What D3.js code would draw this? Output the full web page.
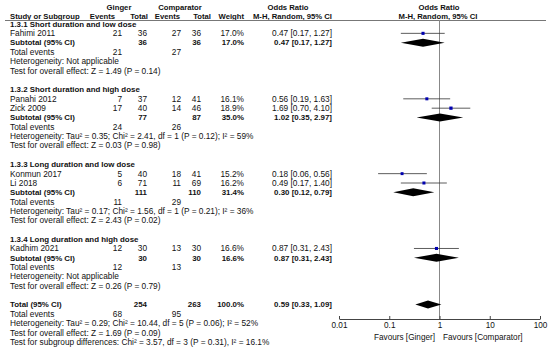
<!DOCTYPE html>
<html>
<head>
<meta charset="utf-8">
<script src="https://cdn.jsdelivr.net/npm/d3@7"></script>
<style>
  body { margin: 0; background: #fff; }
  svg text { font-family: "Liberation Sans", Arial, sans-serif; font-size: 8.3px; fill: #111; }
  .b { font-weight: bold; font-size: 7.9px; }
  .h { font-weight: bold; font-size: 7.7px; }
</style>
</head>
<body>
<svg id="chart" width="550" height="350"></svg>
<script>
// study level data
const groups = ["1.3.1 Short duration and low dose", "1.3.2 Short duration and high dose",
  "1.3.3 Long duration and low dose", "1.3.4 Long duration and high dose"];
const studies = ["Fahimi 2011", "Panahi 2012", "Zick 2009", "Konmun 2017", "Li 2018", "Kadhim 2021"];
const studyGroup = [0, 1, 1, 2, 2, 3];
const gEvents = [21, 7, 17, 5, 6, 12];
const gTotal = [36, 37, 40, 40, 71, 30];
const cEvents = [27, 12, 14, 18, 11, 13];
const cTotal = [36, 41, 46, 41, 69, 30];
const weights = [17.0, 16.1, 18.9, 15.2, 16.2, 16.6];
const orVal = [0.47, 0.56, 1.69, 0.18, 0.49, 0.87];
const orLo = [0.17, 0.19, 0.70, 0.06, 0.17, 0.31];
const orHi = [1.27, 1.63, 4.10, 0.56, 1.40, 2.43];

// subgroup data
const subGTotal = [36, 77, 111, 30];
const subCTotal = [36, 87, 110, 30];
const subWeight = [17.0, 35.0, 31.4, 16.6];
const subGEvents = [21, 24, 11, 12];
const subCEvents = [27, 26, 29, 13];
const subOR = [0.47, 1.02, 0.30, 0.87];
const subLo = [0.17, 0.35, 0.12, 0.31];
const subHi = [1.27, 2.97, 0.79, 2.43];
const subHet = ["Not applicable", "Tau² = 0.35; Chi² = 2.41, df = 1 (P = 0.12); I² = 59%",
  "Tau² = 0.17; Chi² = 1.56, df = 1 (P = 0.21); I² = 36%", "Not applicable"];
const subZ = ["Z = 1.49 (P = 0.14)", "Z = 0.03 (P = 0.98)", "Z = 2.43 (P = 0.02)", "Z = 0.26 (P = 0.79)"];

// overall
const totG = 254, totC = 263, totW = 100.0;
const totOR = 0.59, totLo = 0.33, totHi = 1.09;
const totGEvents = 68, totCEvents = 95;
const totHet = "Tau² = 0.29; Chi² = 10.44, df = 5 (P = 0.06); I² = 52%";
const totZ = "Z = 1.69 (P = 0.09)";
const subgroupTest = "Chi² = 3.57, df = 3 (P = 0.31), I² = 16.1%";

const ticks = [0.01, 0.1, 1, 10, 100];

const f2 = d3.format(".2f"), f1 = d3.format(".1f");
const ciText = (o, l, h) => `${f2(o)} [${f2(l)}, ${f2(h)}]`;

// build rows
const rows = [];
groups.forEach((g, gi) => {
  rows.push({ type: "head", label: g });
  studies.forEach((s, i) => {
    if (studyGroup[i] !== gi) return;
    rows.push({ type: "study", label: s, ge: gEvents[i], gt: gTotal[i], ce: cEvents[i], ct: cTotal[i],
      w: weights[i], or: orVal[i], lo: orLo[i], hi: orHi[i] });
  });
  rows.push({ type: "sub", label: "Subtotal (95% CI)", gt: subGTotal[gi], ct: subCTotal[gi], w: subWeight[gi],
    or: subOR[gi], lo: subLo[gi], hi: subHi[gi] });
  rows.push({ type: "events", label: "Total events", ge: subGEvents[gi], ce: subCEvents[gi] });
  rows.push({ type: "text", label: "Heterogeneity: " + subHet[gi] });
  rows.push({ type: "text", label: "Test for overall effect: " + subZ[gi] });
  rows.push({ type: "blank" });
});
rows.push({ type: "sub", label: "Total (95% CI)", gt: totG, ct: totC, w: totW, or: totOR, lo: totLo, hi: totHi });
rows.push({ type: "events", label: "Total events", ge: totGEvents, ce: totCEvents });
rows.push({ type: "text", label: "Heterogeneity: " + totHet });
rows.push({ type: "text", label: "Test for overall effect: " + totZ });
rows.push({ type: "text", label: "Test for subgroup differences: " + subgroupTest });

const svg = d3.select("#chart");

const y = d3.scaleLinear().domain([0, rows.length - 1]).range([24, 342]);
const x = d3.scaleLog().domain([0.01, 100]).range([339, 540]);

const col = { study: 10, ge: 122, gt: 147, ce: 181, ct: 201, w: 244, or: 332 };

// headers
const head = svg.append("g");
const ht = (t, xx, yy, anchor) => head.append("text").attr("class", "h").attr("x", xx).attr("y", yy)
  .attr("text-anchor", anchor).attr("dy", "0.35em").text(t);
ht("Ginger", 119, 7, "middle");
ht("Comparator", 180, 7, "middle");
ht("Odds Ratio", 288, 7, "middle");
ht("Odds Ratio", 439, 7, "middle");
ht("Study or Subgroup", 10, 16, "start");
ht("Events", 115, 16, "end");
ht("Total", 148, 16, "end");
ht("Events", 180, 16, "end");
ht("Total", 211, 16, "end");
ht("Weight", 244, 16, "end");
ht("M-H, Random, 95% CI", 332, 16, "end");
ht("M-H, Random, 95% CI", 438, 16, "middle");

svg.append("line").attr("x1", 5).attr("x2", 546).attr("y1", 20.5).attr("y2", 20.5)
  .attr("stroke", "#777").attr("stroke-width", 1);

// row texts
const rg = svg.append("g");
rows.forEach((r, i) => {
  if (r.type === "blank") return;
  const yy = y(i);
  const bold = r.type === "head" || r.type === "sub";
  const t = (s, xx, anchor, b) => rg.append("text").attr("x", xx).attr("y", yy).attr("dy", "0.35em")
    .attr("text-anchor", anchor).attr("class", b ? "b" : null).text(s);
  t(r.label, col.study, "start", bold);
  if (r.type === "study") {
    t(r.ge, col.ge, "end"); t(r.gt, col.gt, "end"); t(r.ce, col.ce, "end"); t(r.ct, col.ct, "end");
    t(f1(r.w) + "%", col.w, "end"); t(ciText(r.or, r.lo, r.hi), col.or, "end");
  } else if (r.type === "sub") {
    t(r.gt, col.gt, "end", true); t(r.ct, col.ct, "end", true);
    t(f1(r.w) + "%", col.w, "end", true); t(ciText(r.or, r.lo, r.hi), col.or, "end", true);
  } else if (r.type === "events") {
    t(r.ge, col.ge, "end"); t(r.ce, col.ce, "end");
  }
});

// plot
const axisY = 319;
svg.append("line").attr("x1", x(1)).attr("x2", x(1)).attr("y1", 20).attr("y2", axisY)
  .attr("stroke", "#888").attr("stroke-width", 1);

const pg = svg.append("g");
rows.forEach((r, i) => {
  const yy = y(i);
  if (r.type === "study") {
    pg.append("line").attr("x1", x(r.lo)).attr("x2", x(r.hi)).attr("y1", yy).attr("y2", yy)
      .attr("stroke", "#333").attr("stroke-width", 0.8);
    const s = Math.sqrt(r.w) * 0.75;
    pg.append("rect").attr("x", x(r.or) - s / 2).attr("y", yy - s / 2).attr("width", s).attr("height", s)
      .attr("fill", "#0000b0");
  } else if (r.type === "sub") {
    const h = 4;
    pg.append("path")
      .attr("d", `M${x(r.lo)},${yy}L${x(r.or)},${yy - h}L${x(r.hi)},${yy}L${x(r.or)},${yy + h}Z`)
      .attr("fill", "#000");
  }
});

const axis = svg.append("g").attr("transform", `translate(0,${axisY})`)
  .call(d3.axisBottom(x).tickValues(ticks).tickFormat(d => d).tickSizeInner(-3).tickSizeOuter(0).tickPadding(3));
axis.select(".domain").attr("stroke", "#444");
axis.selectAll(".tick line").attr("stroke", "#444");
axis.selectAll(".tick text").style("font-size", "8.2px").style("font-family", "Liberation Sans, Arial, sans-serif").attr("fill", "#111");

svg.append("text").attr("x", 435).attr("y", 337).attr("dy", "0.35em").attr("text-anchor", "end")
  .style("font-size", "8.2px").text("Favours [Ginger]");
svg.append("text").attr("x", 443).attr("y", 337).attr("dy", "0.35em").attr("text-anchor", "start")
  .style("font-size", "8.2px").text("Favours [Comparator]");
</script>
</body>
</html>
